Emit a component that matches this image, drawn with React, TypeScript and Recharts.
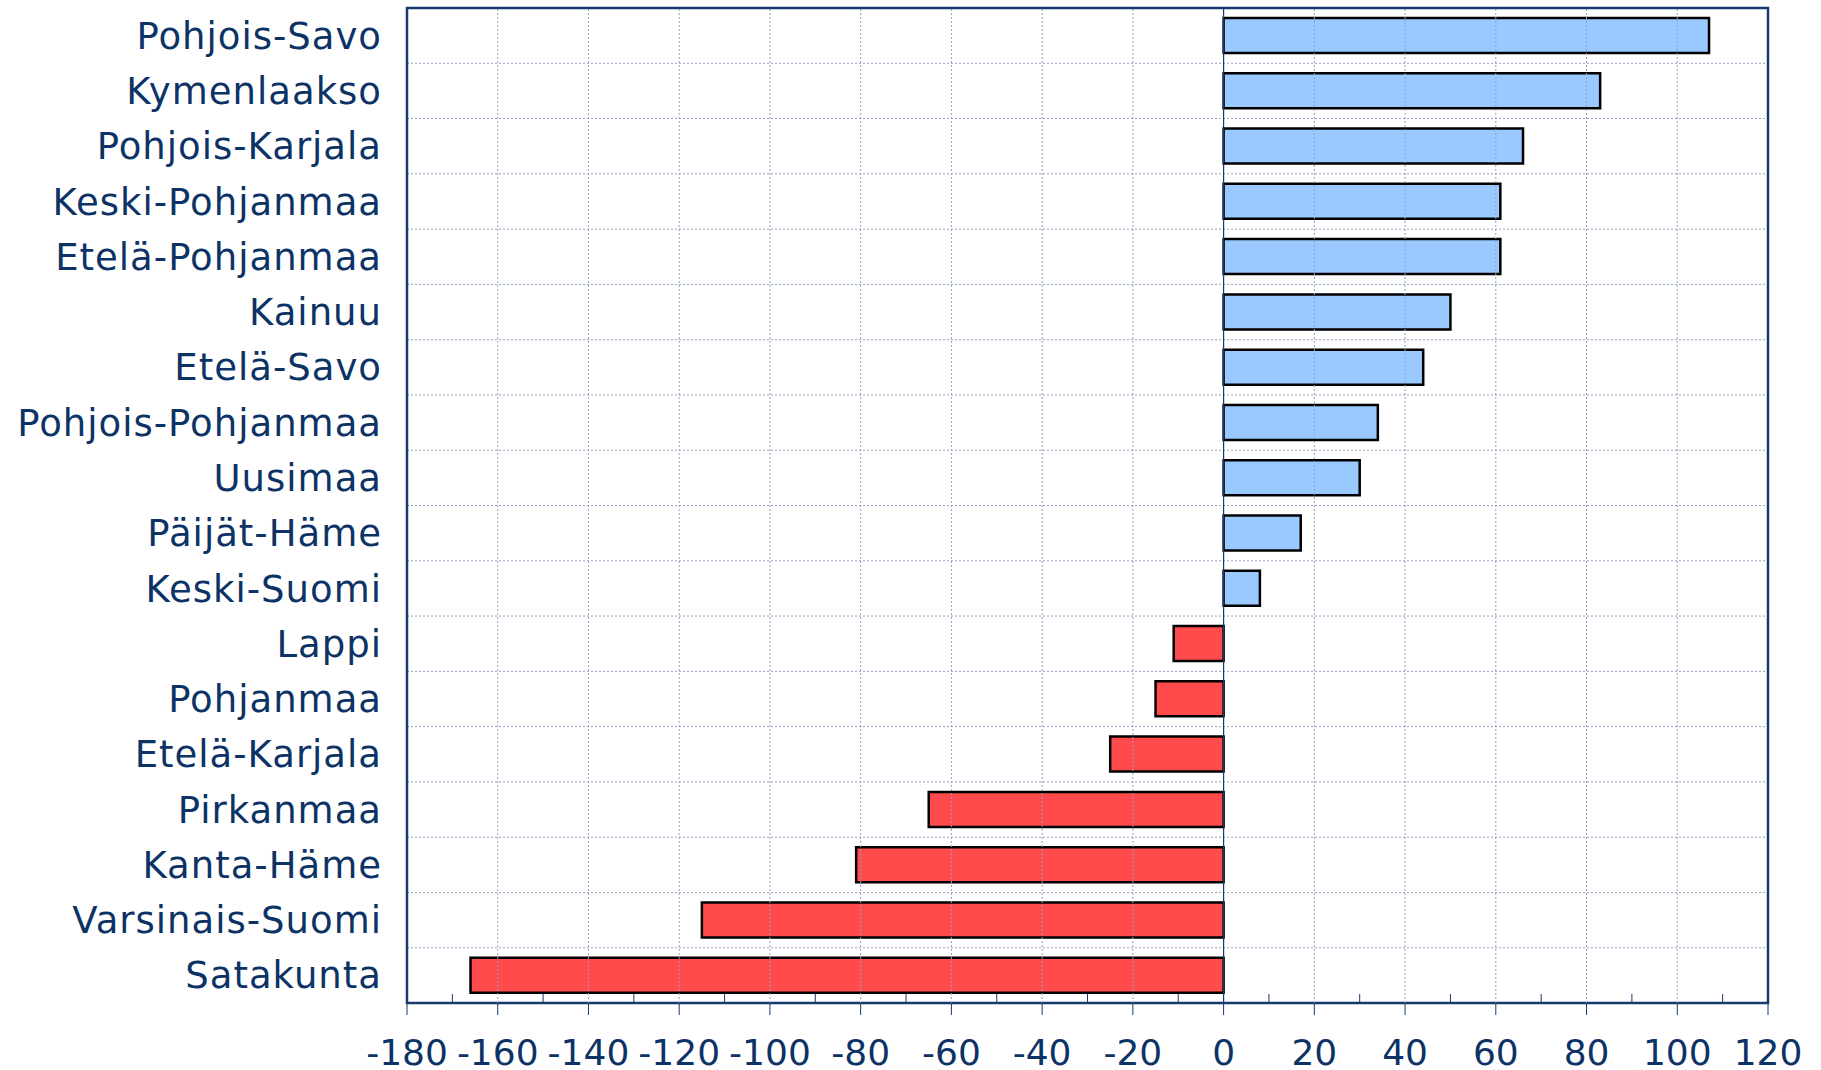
import {
  BarChart,
  Bar,
  Cell,
  XAxis,
  YAxis,
  CartesianGrid,
  ReferenceLine,
  ReferenceArea,
} from "recharts";

const regions = [
  "Pohjois-Savo",
  "Kymenlaakso",
  "Pohjois-Karjala",
  "Keski-Pohjanmaa",
  "Etelä-Pohjanmaa",
  "Kainuu",
  "Etelä-Savo",
  "Pohjois-Pohjanmaa",
  "Uusimaa",
  "Päijät-Häme",
  "Keski-Suomi",
  "Lappi",
  "Pohjanmaa",
  "Etelä-Karjala",
  "Pirkanmaa",
  "Kanta-Häme",
  "Varsinais-Suomi",
  "Satakunta",
];

const changes = [107, 83, 66, 61, 61, 50, 44, 34, 30, 17, 8, -11, -15, -25, -65, -81, -115, -166];

// every 10: labelled ones at multiples of 20, the rest are minor ticks
const xTicks = [
  -180, -170, -160, -150, -140, -130, -120, -110, -100, -90, -80, -70, -60, -50, -40, -30, -20, -10,
  0, 10, 20, 30, 40, 50, 60, 70, 80, 90, 100, 110, 120,
];
const gridTicks = [-160, -140, -120, -100, -80, -60, -40, -20, 20, 40, 60, 80, 100];

const NAVY = "#17396b";
const TEXT = "#0d3366";
const GRID = "#8fa2c0";
const POS = "#99c9ff";
const NEG = "#ff4b4b";
const FONT = "'DejaVu Sans', Verdana, sans-serif";

const data = regions.map((name, i) => ({ name, value: changes[i] }));

function XTick({ x, y, payload }: any) {
  const v = payload.value as number;
  const major = v % 20 === 0;
  return (
    <g>
      {major ? (
        <line x1={x} x2={x} y1={y} y2={y + 12} stroke={NAVY} strokeWidth={1} />
      ) : (
        <line x1={x} x2={x} y1={y} y2={y - 9} stroke={NAVY} strokeWidth={1} />
      )}
      {major && (
        <text x={x} y={y + 62} textAnchor="middle" fill={TEXT} fontSize={36} fontFamily={FONT}>
          {String(v)}
        </text>
      )}
    </g>
  );
}

export default function App() {
  return (
    <div style={{ position: "absolute", left: 0, top: 0, background: "#fff" }}>
      <BarChart
        width={1821}
        height={1070}
        data={data}
        layout="vertical"
        margin={{ top: 8, right: 53, bottom: 0, left: 0 }}
      >
        <CartesianGrid
          vertical={false}
          stroke={GRID}
          strokeDasharray="2 2"
          horizontalCoordinatesGenerator={({ offset }: any) =>
            regions.slice(1).map((_, i) => offset.top + ((i + 1) * offset.height) / regions.length)
          }
        />
        {gridTicks.map((t) => (
          <ReferenceLine key={t} x={t} stroke={GRID} strokeDasharray="2 2" />
        ))}
        <XAxis
          type="number"
          domain={[-180, 120]}
          ticks={xTicks}
          interval={0}
          allowDataOverflow
          axisLine={false}
          tickLine={false}
          tickSize={0}
          tickMargin={0}
          height={67}
          tick={<XTick />}
        />
        <YAxis
          type="category"
          dataKey="name"
          width={407}
          axisLine={false}
          tickLine={false}
          tickSize={0}
          tickMargin={25}
          interval={0}
          tick={{ fill: TEXT, fontSize: 37, fontFamily: FONT, letterSpacing: 1 }}
        />
        <ReferenceLine x={0} stroke={NAVY} strokeWidth={1.2} />
        <Bar dataKey="value" barSize={35} stroke="#000" strokeWidth={2.5} isAnimationActive={false}>
          {data.map((d) => (
            <Cell key={d.name} fill={d.value >= 0 ? POS : NEG} />
          ))}
        </Bar>
        <ReferenceArea x1={-180} x2={120} fill="none" fillOpacity={0} stroke={NAVY} strokeWidth={2.5} />
      </BarChart>
    </div>
  );
}
